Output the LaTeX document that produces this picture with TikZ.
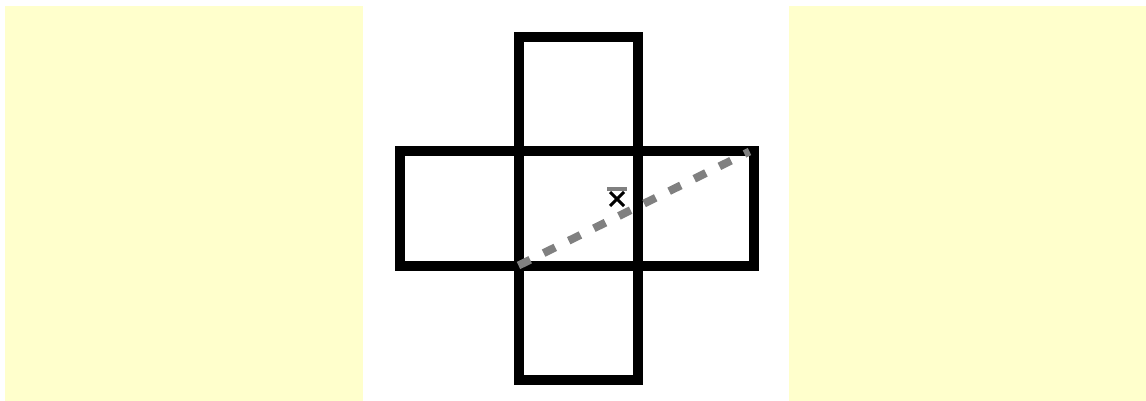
\documentclass[tikz,border=0pt]{standalone}
\usepackage{xcolor}
\usetikzlibrary{positioning}
\definecolor{paneyellow}{RGB}{255,255,204}
\definecolor{pathgray}{RGB}{128,128,128}

\begin{document}
\begin{tikzpicture}[x=1pt, y=-1pt,
  cell/.style={draw, line width=10pt, minimum width=119pt, minimum height=114pt,
               inner sep=0pt, outer sep=0pt},
  pane/.style={fill=paneyellow, minimum width=358pt, minimum height=395pt,
               inner sep=0pt, outer sep=0pt},
  dashpath/.style={draw=pathgray, line width=8pt, dash pattern=on 13pt off 15pt},
  node distance=0pt
]
\useasboundingbox (0,0) rectangle (1146,401);

% side panels
\node[pane] (leftpane) at (184,203.5) {};
\node[pane] (rightpane) at (967.5,203.5) {};

% cross of cells
\node[cell] (ctr) at (578,208.5) {};
\node[cell, above=of ctr] (top) {};
\node[cell, below=of ctr] (bot) {};
\node[cell, left=of ctr] (lft) {};
\node[cell, right=of ctr, minimum width=116pt] (rgt) {};

% diagonal
\draw[dashpath] (ctr.south west) -- ([xshift=-4pt]rgt.north east);

% marker
\coordinate (mark) at (617,199);
\draw[line width=3pt] ([shift={(-7,-7)}]mark) -- ([shift={(7,7)}]mark)
  ([shift={(7,-7)}]mark) -- ([shift={(-7,7)}]mark);
\draw[pathgray, line width=4pt] ([shift={(-10,-10)}]mark) -- ([shift={(10,-10)}]mark);
\end{tikzpicture}
\end{document}
